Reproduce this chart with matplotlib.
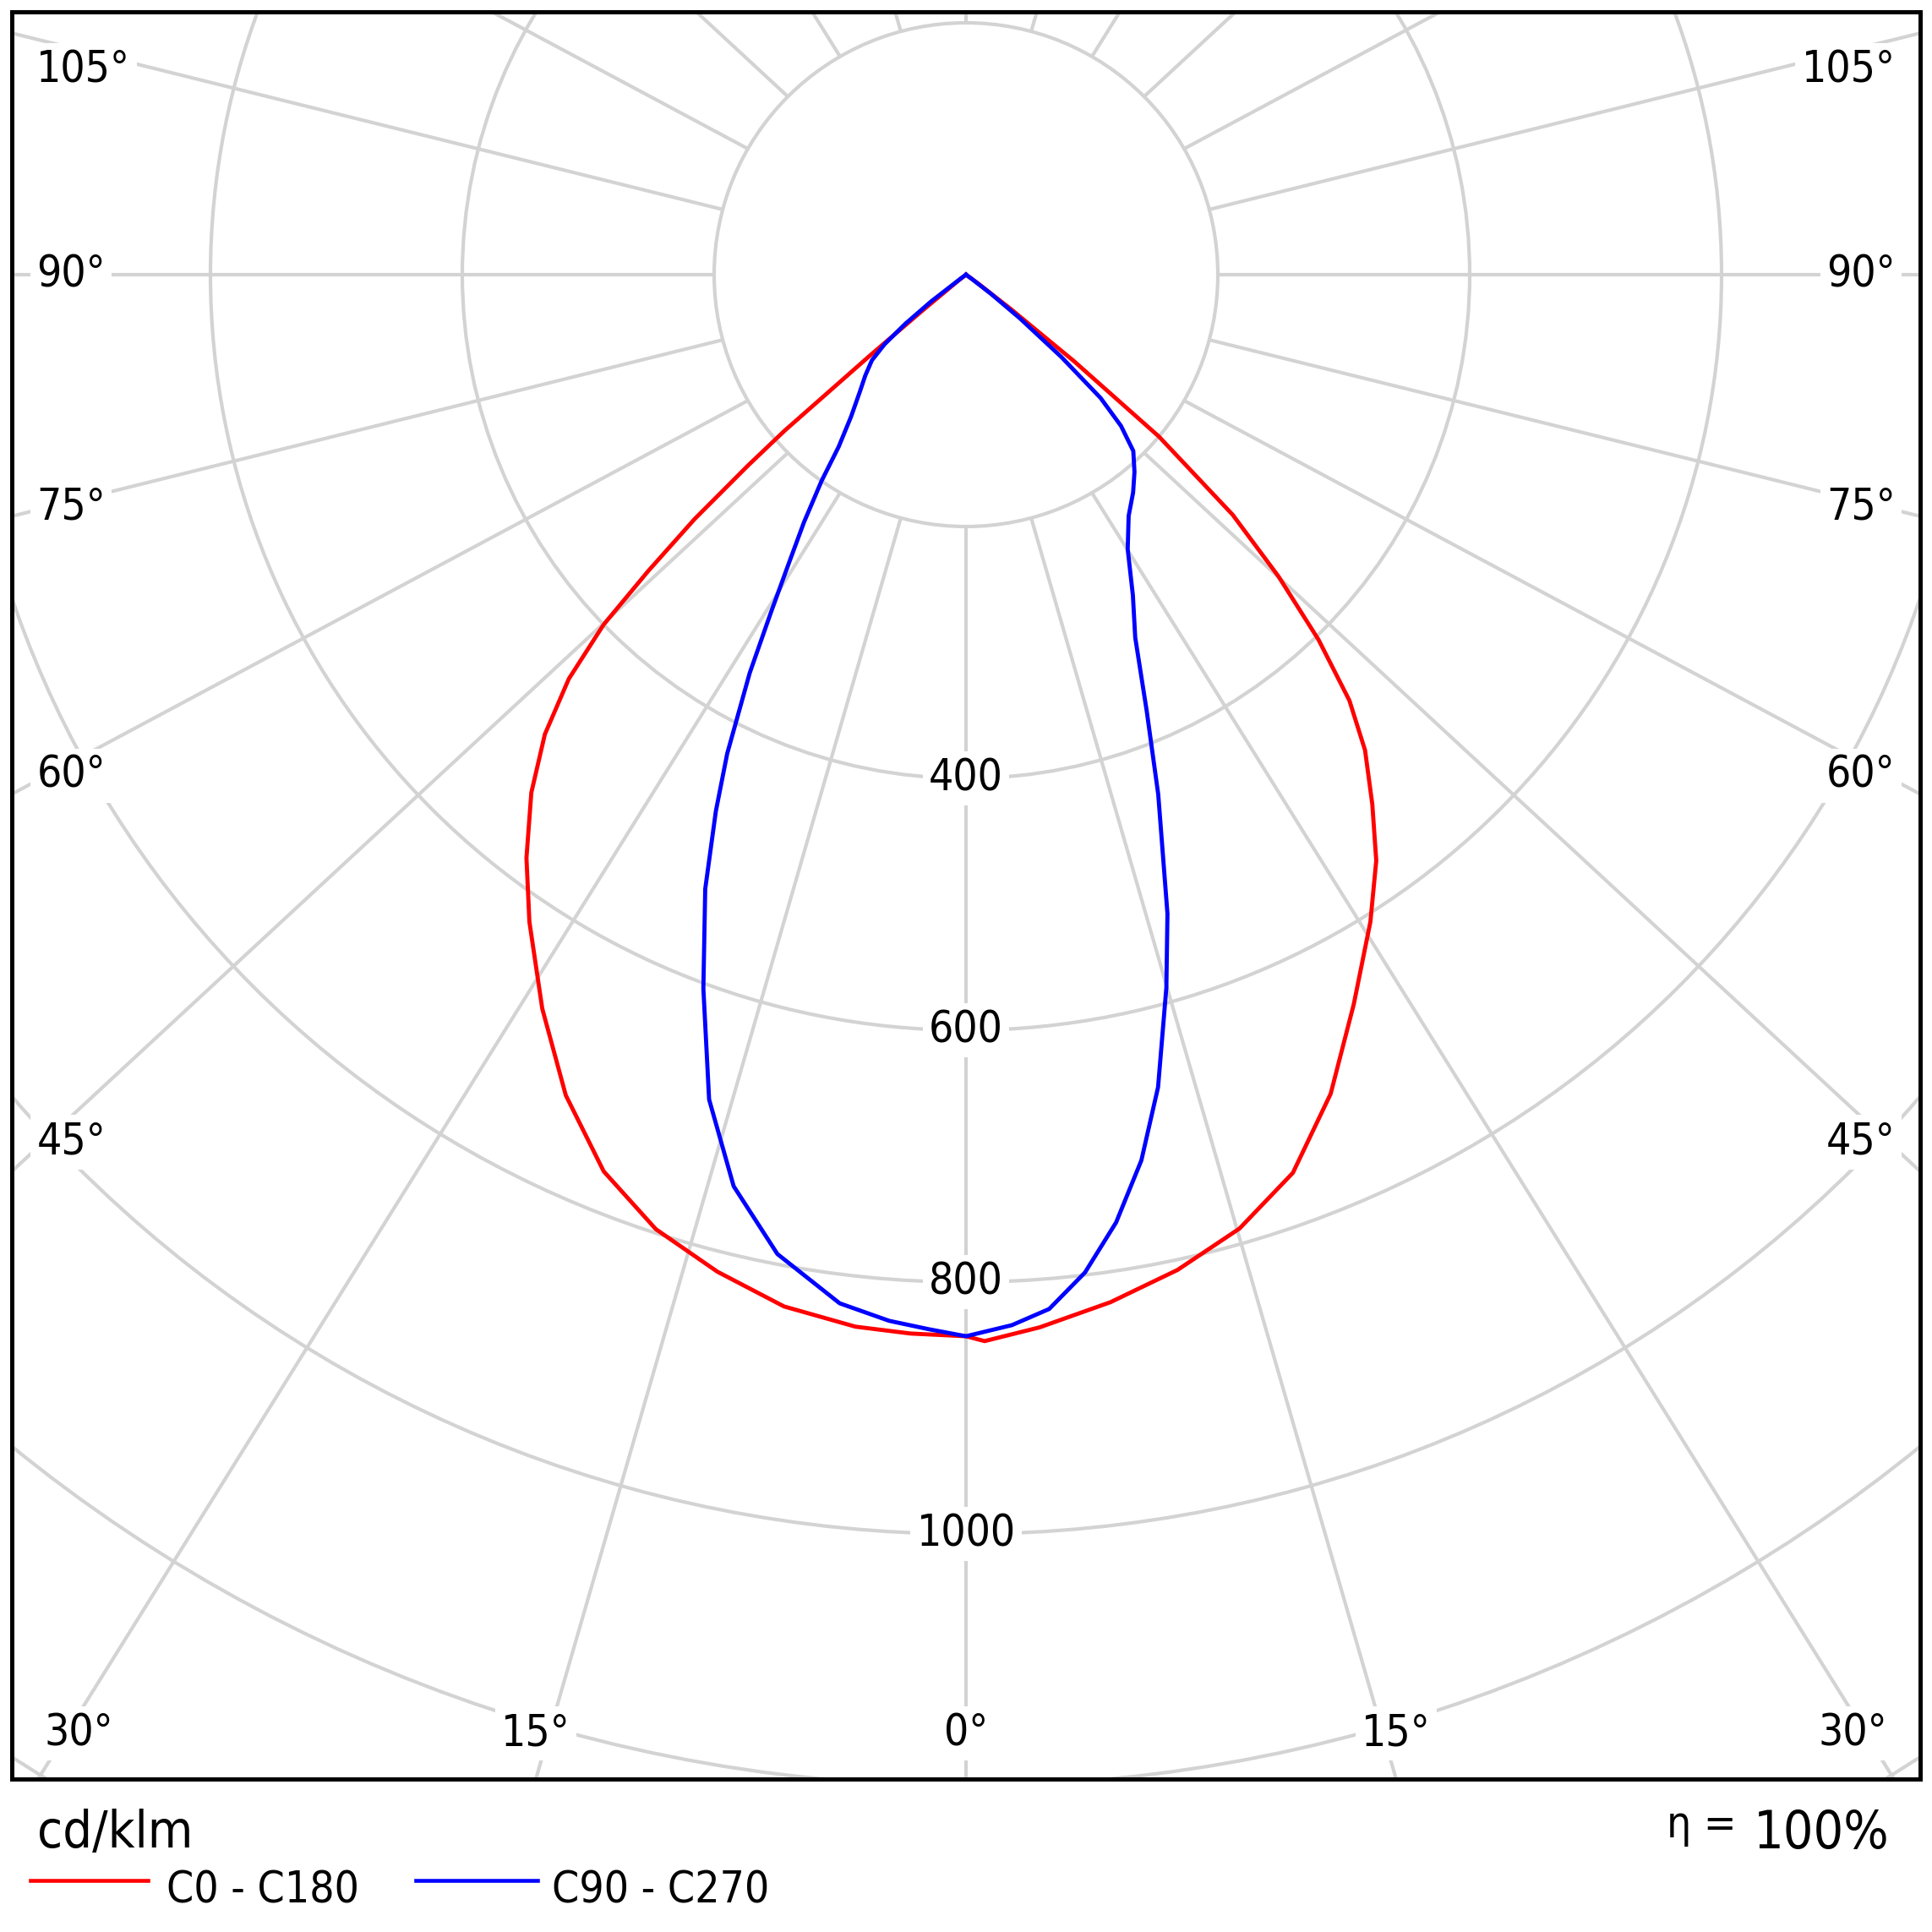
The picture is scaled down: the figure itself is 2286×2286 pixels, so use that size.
import numpy as np
import matplotlib
matplotlib.use("Agg")
import matplotlib.pyplot as plt
from matplotlib.lines import Line2D
from matplotlib.patches import Circle

# ---------------- data (cd/klm vs gamma angle in degrees) ----------------
# C0 plane (right half of the diagram)
ang_c0 = [0, 1, 4, 8, 12, 16, 20, 24, 28, 32, 35, 37.5, 40, 42, 44, 46, 48, 50,
          51.3, 52.5, 54, 56, 90]
val_c0 = [843, 847, 838, 824, 808, 788, 759, 712, 656, 606, 568, 530, 493, 455, 403,
          345, 285, 200, 110, 45, 12, 0, 0]
# C180 plane (left half)
ang_c180 = [0, 3, 6, 10, 14, 18, 22, 26, 30, 34, 37, 40, 42.5, 44.5, 46, 47, 48,
            48.8, 49.3, 49.9, 50.5, 52, 54, 90]
val_c180 = [843, 842, 840, 832, 816, 797, 768, 725, 673, 620, 580, 537, 495, 450, 400,
            345, 290, 230, 190, 100, 45, 8, 0, 0]
# C90 plane (right half)
ang_c90 = [0, 2.5, 4.6, 6.8, 9, 11.2, 13.3, 15.7, 17.5, 20.3, 22.5, 25, 27.5, 30.5,
           34, 37.5, 40.5, 43.5, 45.7, 47.5, 49.2, 51, 52.5, 54, 56, 90]
val_c90 = [843, 835, 824, 798, 762, 717, 663, 588, 532, 440, 375, 318, 287, 253,
           231, 218, 206, 193, 172, 145, 100, 55, 25, 5, 0, 0]
# C270 plane (left half)
ang_c270 = [0, 2, 4.2, 7, 10.9, 14.3, 17.3, 20.2, 23, 25, 26.5, 28.5, 30, 31.5, 33.2,
            35, 36.5, 39, 42.3, 45, 47.7, 49.5, 51, 52.5, 54, 56, 90]
val_c270 = [843, 838, 833, 823, 792, 747, 686, 604, 530, 470, 425, 360, 310, 270, 235,
            200, 170, 145, 125, 113, 101, 85, 62, 35, 5, 0, 0]

ring_values = [200, 400, 600, 800, 1000, 1200, 1400, 1600]
ring_labels = [400, 600, 800, 1000]
radial_angles = list(range(0, 360, 15))
side_angle_labels = [45, 60, 75, 90, 105]
bottom_angle_labels = [0, 15, 30]
series_names = ["C0 - C180", "C90 - C270"]
series_colors = ["#ff0000", "#0000ff"]
unit_text = "cd/klm"
eta_symbol = "\u03b7 ="
eta_value = "100%"

# ---------------- layout ----------------
W = 2286
S = 1.49              # px per cd/klm
cx, cy = 1143, 325     # centre in px
f_left, f_right, f_top, f_bottom = 14, 2272, 14, 2105

plt.rcParams["font.family"] = ["DejaVu Sans"]
fig = plt.figure(figsize=(W / 100, W / 100), dpi=100)
ax = fig.add_axes([f_left / W, 1 - f_bottom / W, (f_right - f_left) / W, (f_bottom - f_top) / W])
ax.set_xlim((f_left - cx) / S, (f_right - cx) / S)
ax.set_ylim(-(f_bottom - cy) / S, (cy - f_top) / S)
ax.set_xticks([])
ax.set_yticks([])
for sp in ax.spines.values():
    sp.set_linewidth(3.6)
    sp.set_color("black")
    sp.set_zorder(10)

grid_col = "#d3d3d3"
grid_lw = 3.0

for r in ring_values:
    ax.add_patch(Circle((0, 0), r, fill=False, edgecolor=grid_col, lw=grid_lw, zorder=1))

# radial lines start on the innermost ring; the outward direction is slightly
# widened horizontally, as in the reference diagram
r_in = ring_values[0]
skew = 1.08
for a in radial_angles:
    t = np.radians(a)
    x0, y0 = r_in * np.sin(t), -r_in * np.cos(t)
    dx, dy = skew * np.sin(t), -np.cos(t)
    n = np.hypot(dx, dy)
    ax.plot([x0, x0 + 3000 * dx / n], [y0, y0 + 3000 * dy / n],
            color=grid_col, lw=grid_lw, zorder=1, solid_capstyle="butt")


def half_xy(angles, vals, side):
    t = np.radians(np.asarray(angles, float))
    v = np.asarray(vals, float)
    return side * v * np.sin(t), -v * np.cos(t)


def full_curve(ang_left, val_left, ang_right, val_right):
    xl, yl = half_xy(ang_left, val_left, -1)
    xr, yr = half_xy(ang_right, val_right, 1)
    return np.concatenate([xl[::-1], xr[1:]]), np.concatenate([yl[::-1], yr[1:]])


x1, y1 = full_curve(ang_c180, val_c180, ang_c0, val_c0)
x2, y2 = full_curve(ang_c270, val_c270, ang_c90, val_c90)
ax.plot(x1, y1, color=series_colors[0], lw=3.5, zorder=5, solid_joinstyle="round")
ax.plot(x2, y2, color=series_colors[1], lw=3.5, zorder=5, solid_joinstyle="round")

lab_fs = 37
bbox = dict(facecolor="white", edgecolor="none", pad=5)
txt_kw = dict(fontsize=lab_fs, fontstretch="condensed", zorder=4, bbox=bbox)

for rv in ring_labels:
    ax.text(0, -rv, f"{rv}", ha="center", va="center", **txt_kw)

D_side = 689
x_side = 738
y_top_max = 162
for a in side_angle_labels:
    t = np.radians(a)
    y = -D_side * np.cos(t) / np.sin(t)
    y = min(y, y_top_max)
    ax.text(-x_side, y, f"{a}\u00b0", ha="left", va="center", **txt_kw)
    ax.text(x_side, y, f"{a}\u00b0", ha="right", va="center", **txt_kw)

y_bot = -1158.4
for a in bottom_angle_labels:
    t = np.radians(a)
    xb = -y_bot * np.tan(t) * 1.012
    if a == 0:
        ax.text(0, y_bot, "0\u00b0", ha="center", va="center", **txt_kw)
    else:
        ax.text(-xb, y_bot, f"{a}\u00b0", ha="right", va="center", **txt_kw)
        ax.text(xb, y_bot, f"{a}\u00b0", ha="left", va="center", **txt_kw)

# ---------------- footer ----------------
def fx(px):
    return px / W


def fy(py):
    return 1 - py / W


fig.text(fx(44), fy(2186), unit_text, fontsize=44, ha="left", va="baseline", fontstretch="condensed")
fig.text(fx(2236), fy(2187), eta_value, fontsize=45, ha="right", va="baseline", fontstretch="condensed")
fig.text(fx(2055), fy(2174), eta_symbol, fontsize=37, ha="right", va="baseline", fontstretch="condensed")

leg_y = 2225
leg_items = [(36, 175, 197), (492, 636, 653)]
for (xa, xb_, xt), name, col in zip(leg_items, series_names, series_colors):
    fig.add_artist(Line2D([fx(xa), fx(xb_)], [fy(leg_y), fy(leg_y)], color=col, lw=3.3,
                          transform=fig.transFigure))
    fig.text(fx(xt), fy(2252), name, fontsize=37, ha="left", va="baseline", fontstretch="condensed")

fig.savefig("out.png", dpi=100, facecolor="white")
